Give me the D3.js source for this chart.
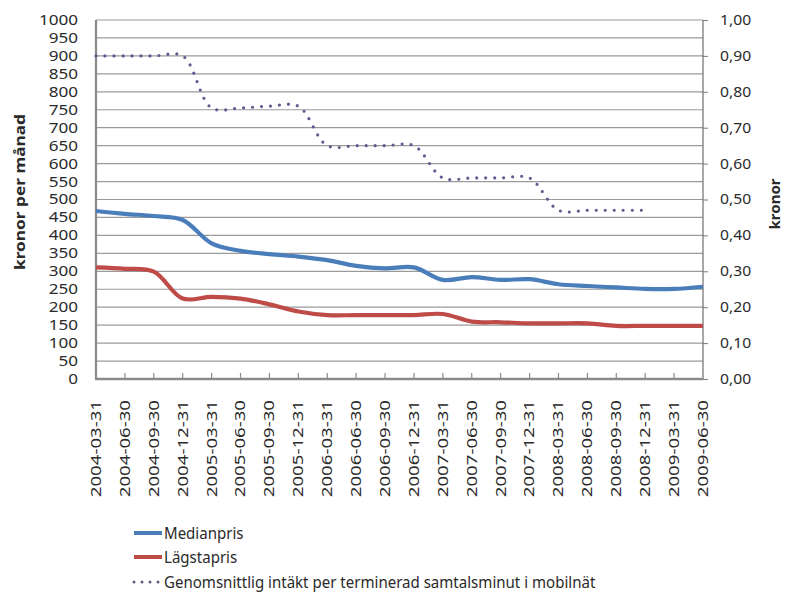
<!DOCTYPE html>
<html>
<head>
<meta charset="utf-8">
<script src="https://cdn.jsdelivr.net/npm/d3@7"></script>
<style>
  body { margin: 0; background: #fff; }
  svg { font-family: "Noto Sans", sans-serif; }
</style>
</head>
<body>
<svg id="chart" width="785" height="605"></svg>
<script>
// Quarter-end dates on the category axis
const dates = [
  "2004-03-31","2004-06-30","2004-09-30","2004-12-31",
  "2005-03-31","2005-06-30","2005-09-30","2005-12-31",
  "2006-03-31","2006-06-30","2006-09-30","2006-12-31",
  "2007-03-31","2007-06-30","2007-09-30","2007-12-31",
  "2008-03-31","2008-06-30","2008-09-30","2008-12-31",
  "2009-03-31","2009-06-30"
];
// kronor per månad (left axis)
const medianpris = [468,460,454,443,378,357,348,341,331,315,308,311,276,284,276,278,264,259,255,251,251,257];
const lagstapris = [311,307,299,224,229,224,208,188,178,178,178,178,181,160,158,155,155,155,148,148,148,148];
// kronor per terminerad minut (right axis)
const intakt = [0.90,0.90,0.90,0.90,0.755,0.755,0.76,0.76,0.65,0.65,0.65,0.65,0.56,0.56,0.56,0.56,0.47,0.47,0.47,0.47,null,null];

const leftTicks = d3.range(0, 1001, 50);
const rightTicks = d3.range(0, 11).map(d => d / 10);
const seriesNames = ["Medianpris", "Lägstapris", "Genomsnittlig intäkt per terminerad samtalsminut i mobilnät"];
const leftTitle = "kronor per månad";
const rightTitle = "kronor";

const svg = d3.select("#chart");
const plot = { left: 96, right: 703, top: 20, bottom: 379 };

const x = d3.scalePoint().domain(dates).range([plot.left, plot.right]);
const yL = d3.scaleLinear().domain([0, 1000]).range([plot.bottom, plot.top]);
const yR = d3.scaleLinear().domain([0, 1]).range([plot.bottom, plot.top]);

const textColor = "#2a2a2a";
const fmtR = v => d3.format(".2f")(v).replace(".", ",");

// widen or narrow glyphs horizontally by factor k
function stretch(sel, k) {
  sel.each(function () {
    const len = this.getComputedTextLength();
    d3.select(this).attr("textLength", len * k).attr("lengthAdjust", "spacingAndGlyphs");
  });
}

// horizontal gridlines
svg.append("g")
  .selectAll("line")
  .data(leftTicks.filter(d => d > 0))
  .join("line")
  .attr("x1", plot.left).attr("x2", plot.right)
  .attr("y1", d => yL(d)).attr("y2", d => yL(d))
  .attr("stroke", "#9a9a9a").attr("stroke-width", 1.2);

// left axis labels
const gL = svg.append("g")
  .attr("transform", `translate(${plot.left},0)`)
  .call(d3.axisLeft(yL).tickValues(leftTicks).tickSize(0).tickPadding(18).tickFormat(d3.format("d")));
gL.select(".domain").remove();
gL.selectAll("text").attr("font-size", 14).attr("fill", textColor).attr("font-family", "Noto Sans");
stretch(gL.selectAll("text"), 1.22);

// right axis
const gR = svg.append("g")
  .attr("transform", `translate(${plot.right},0)`)
  .call(d3.axisRight(yR).tickValues(rightTicks).tickSize(5).tickPadding(12).tickFormat(fmtR));
gR.select(".domain").remove();
gR.selectAll("line").attr("stroke", "#7a7a7a");
gR.selectAll("text").attr("font-size", 14).attr("fill", textColor).attr("font-family", "Noto Sans");
stretch(gR.selectAll("text"), 1.12);

// frame lines
svg.append("line").attr("x1", plot.right).attr("x2", plot.right)
  .attr("y1", plot.top).attr("y2", plot.bottom)
  .attr("stroke", "#6e6e6e").attr("stroke-width", 1.2);
svg.append("line").attr("x1", plot.left).attr("x2", plot.left)
  .attr("y1", plot.top).attr("y2", plot.bottom + 1)
  .attr("stroke", "#8a8a8a").attr("stroke-width", 2.2);

// category ticks pointing into the plot
svg.append("g")
  .selectAll("line")
  .data(dates.slice(1, -1))
  .join("line")
  .attr("x1", d => x(d)).attr("x2", d => x(d))
  .attr("y1", plot.bottom).attr("y2", plot.bottom - 6)
  .attr("stroke", "#8a8a8a").attr("stroke-width", 1.2);

svg.append("line").attr("x1", plot.left - 1).attr("x2", plot.right)
  .attr("y1", plot.bottom).attr("y2", plot.bottom)
  .attr("stroke", "#8a8a8a").attr("stroke-width", 2.6);

// category labels, rotated
const xl = svg.append("g")
  .selectAll("text")
  .data(dates)
  .join("text")
  .attr("transform", d => `translate(${x(d)},400) rotate(-90)`)
  .attr("text-anchor", "end")
  .attr("dy", "0.35em")
  .attr("font-size", 14)
  .attr("fill", textColor)
  .text(d => d);
stretch(xl, 1.33);

// axis titles
const tl = svg.append("text")
  .attr("transform", "translate(20,192) rotate(-90)")
  .attr("text-anchor", "middle").attr("dy", "0.35em")
  .attr("font-size", 15).attr("font-weight", "bold").attr("fill", textColor)
  .text(leftTitle);
stretch(tl, 1.15);
svg.append("text")
  .attr("transform", "translate(775,204) rotate(-90)")
  .attr("text-anchor", "middle").attr("dy", "0.35em")
  .attr("font-size", 15).attr("font-weight", "bold").attr("fill", textColor)
  .text(rightTitle);

// series
const lineL = d3.line().x((d, i) => x(dates[i])).y(d => yL(d)).curve(d3.curveCatmullRom);
const lineR = d3.line().defined(d => d !== null).x((d, i) => x(dates[i])).y(d => yR(d)).curve(d3.curveCatmullRom);

const blue = "#4a7ebb", red = "#be4b48", purple = "#5e5b8e";

svg.append("path").datum(intakt).attr("d", lineR)
  .attr("fill", "none").attr("stroke", purple).attr("stroke-width", 3.2)
  .attr("stroke-linecap", "round").attr("stroke-dasharray", "0 9");
svg.append("path").datum(medianpris).attr("d", lineL)
  .attr("fill", "none").attr("stroke", blue).attr("stroke-width", 4.2);
svg.append("path").datum(lagstapris).attr("d", lineL)
  .attr("fill", "none").attr("stroke", red).attr("stroke-width", 4.2);

// legend
const legend = svg.append("g");
const legY = [533, 557, 582];
const legStyles = [
  { color: blue, dash: null, w: 4 },
  { color: red, dash: null, w: 4 },
  { color: purple, dash: "0 8", w: 3 }
];
seriesNames.forEach((name, i) => {
  const st = legStyles[i];
  legend.append("line")
    .attr("x1", 134).attr("x2", 162).attr("y1", legY[i]).attr("y2", legY[i])
    .attr("stroke", st.color).attr("stroke-width", st.w)
    .attr("stroke-linecap", st.dash ? "round" : "butt")
    .attr("stroke-dasharray", st.dash);
  const t = legend.append("text")
    .attr("x", 164).attr("y", legY[i]).attr("dy", "0.35em")
    .attr("font-size", 16).attr("fill", textColor)
    .text(name);
  stretch(t, 0.94);
});
</script>
</body>
</html>
